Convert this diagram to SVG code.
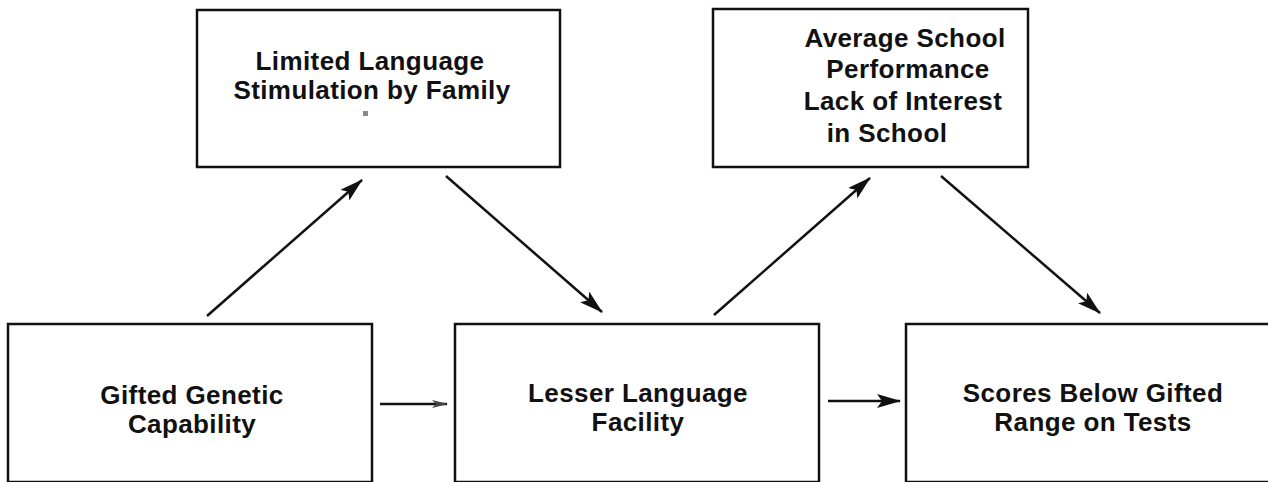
<svg xmlns="http://www.w3.org/2000/svg" width="1268" height="482" viewBox="0 0 1268 482">
<defs>
<style>
.box{fill:#fff;stroke:#111;stroke-width:2.5}
.t{font-family:"Liberation Sans",Arial,sans-serif;font-weight:bold;font-size:26px;fill:#111;text-anchor:middle;letter-spacing:0.4px}
.c{stroke:#111;stroke-width:2.5;fill:none}
</style>
<marker id="ah" viewBox="0 0 24 14" refX="23" refY="7" markerWidth="24" markerHeight="14" markerUnits="userSpaceOnUse" orient="auto">
<path d="M0,0 L24,7 L0,14 L5,7 Z" fill="#111"/>
</marker>
<marker id="ah2" viewBox="0 0 16 10" refX="15" refY="5" markerWidth="16" markerHeight="10" markerUnits="userSpaceOnUse" orient="auto">
<path d="M0,1 L16,5 L0,9 L4,5 Z" fill="#444"/>
</marker>
</defs>
<rect width="1268" height="482" fill="#fff"/>
<g id="gifted">
<rect class="box" x="8" y="324" width="364" height="158"/>
<text class="t" x="192" y="404">Gifted Genetic</text>
<text class="t" x="192" y="433">Capability</text>
</g>
<g id="lesser">
<rect class="box" x="455" y="324" width="364" height="158"/>
<text class="t" x="638" y="402">Lesser Language</text>
<text class="t" x="638" y="431">Facility</text>
</g>
<g id="scores">
<rect class="box" x="906" y="324" width="370" height="158"/>
<text class="t" x="1093" y="402">Scores Below Gifted</text>
<text class="t" x="1093" y="431">Range on Tests</text>
</g>
<g id="limited">
<rect class="box" x="197" y="10" width="363" height="157"/>
<text class="t" x="370" y="70">Limited Language</text>
<text class="t" x="372" y="99">Stimulation by Family</text>
<rect x="363" y="111" width="5" height="5" fill="#888"/>
</g>
<g id="average">
<rect class="box" x="713" y="9" width="315" height="158"/>
<text class="t" x="905" y="47">Average School</text>
<text class="t" x="908" y="78">Performance</text>
<text class="t" x="903" y="110">Lack of Interest</text>
<text class="t" x="887" y="142">in School</text>
</g>
<g id="connectors">
<line class="c" x1="207" y1="316" x2="362" y2="180" marker-end="url(#ah)"/>
<line class="c" x1="446" y1="176" x2="602" y2="312" marker-end="url(#ah)"/>
<line class="c" x1="714" y1="315" x2="870" y2="178" marker-end="url(#ah)"/>
<line class="c" x1="941" y1="176" x2="1100" y2="313" marker-end="url(#ah)"/>
<line class="c" x1="380" y1="404" x2="447" y2="404" stroke-width="2" marker-end="url(#ah2)"/>
<line class="c" x1="828" y1="401" x2="900" y2="401" marker-end="url(#ah)"/>
</g>
</svg>
